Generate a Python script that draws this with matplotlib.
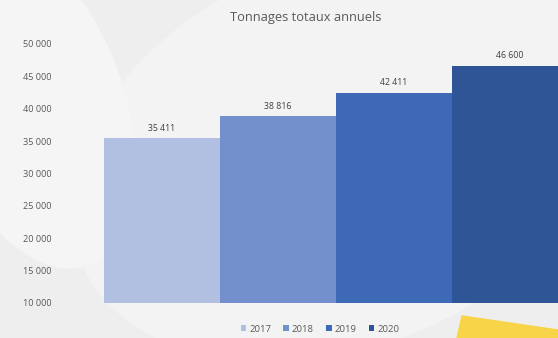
import matplotlib.pyplot as plt
from matplotlib.patches import Polygon, Ellipse
from matplotlib.ticker import FuncFormatter

years = ['2017', '2018', '2019', '2020']
tonnages = [35411, 38816, 42411, 46600]
colors = ['#b1bfe1', '#7490cc', '#3e69b7', '#2f5597']
yticks = [10000, 15000, 20000, 25000, 30000, 35000, 40000, 45000, 50000]

plt.rcParams['font.family'] = ['Open Sans', 'DejaVu Sans']

W, H = 558, 338
fig = plt.figure(figsize=(W / 100, H / 100), dpi=100)
fig.patch.set_facecolor('#eeeeee')

# soft background swirl
fig.patches.append(Ellipse((0.62, 0.55), 0.9, 1.3, angle=-25,
                           transform=fig.transFigure, color='#f3f3f3', zorder=0))
fig.patches.append(Ellipse((0.05, 0.7), 0.35, 1.0, angle=10,
                           transform=fig.transFigure, color='#f5f5f5', zorder=0))

# yellow note in bottom-right corner
pts = [(462, 316), (558, 330), (558, 338), (457, 338)]
fig.patches.append(Polygon([(x / W, 1 - y / H) for x, y in pts], closed=True,
                           transform=fig.transFigure, color='#f8d548', zorder=1))

left, right = 104, 568
bottom, top = 303, 44
ax = fig.add_axes([left / W, 1 - bottom / H, (right - left) / W, (bottom - top) / H])
ax.set_facecolor('none')
ax.set_zorder(5)

for i, (yr, v, c) in enumerate(zip(years, tonnages, colors)):
    ax.bar(i, v - 10000, bottom=10000, width=1.0, color=c, label=yr, zorder=2)
    ax.text(i, v + 900, f'{v:,}'.replace(',', ' '), ha='center', va='bottom',
            fontsize=6.3, color='#404040', clip_on=False)

ax.set_xlim(-0.5, 3.5)
ax.set_ylim(10000, 50000)
ax.set_yticks(yticks)
ax.yaxis.set_major_formatter(FuncFormatter(lambda v, p: f'{int(v):,}'.replace(',', ' ')))
ax.tick_params(axis='y', length=0, pad=38, labelsize=6.6, labelcolor='#595959')
ax.set_xticks([])
for s in ax.spines.values():
    s.set_visible(False)

fig.text(306 / W, 1 - 17 / H, 'Tonnages totaux annuels', ha='center', va='center',
         fontsize=9.3, color='#595959', zorder=6)

leg = fig.legend(loc='center', bbox_to_anchor=(320 / W, 1 - 329 / H), ncol=4,
                 frameon=False, fontsize=6.8, handlelength=0.6, handleheight=0.6,
                 handletextpad=0.3, columnspacing=1.3, labelcolor='#595959')
leg.set_zorder(6)

fig.savefig('out.png', dpi=100, facecolor=fig.get_facecolor())
